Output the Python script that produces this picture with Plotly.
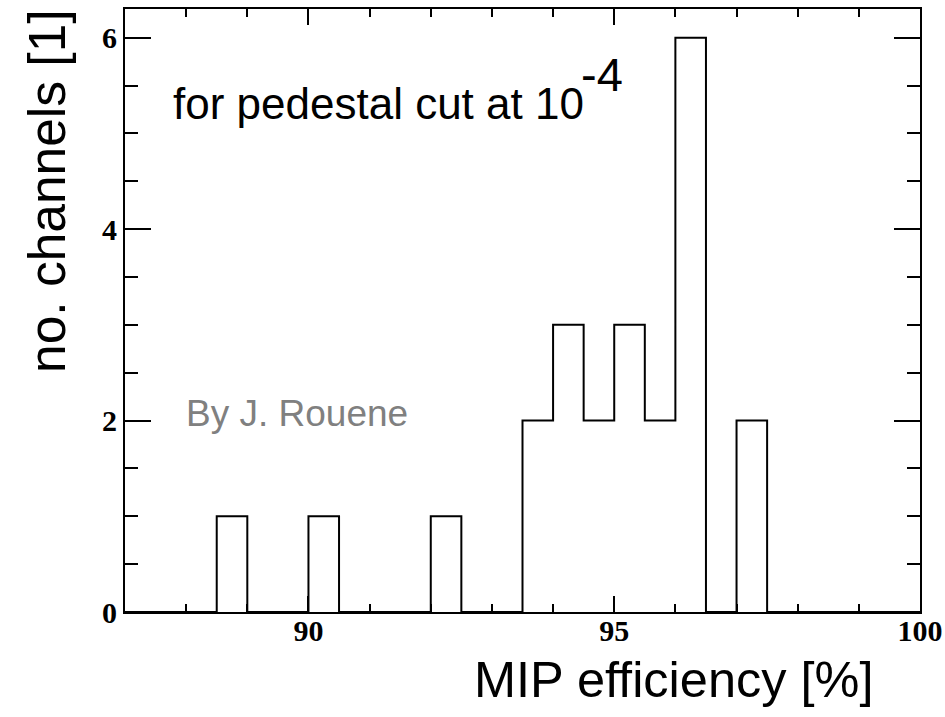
import plotly.graph_objects as go

# ---- data ----
bin_edges = [87.0 + 0.5 * i for i in range(27)]  # 87.0 ... 100.0
counts = [0, 0, 0, 1, 0, 0, 1, 0, 0, 0, 1, 0, 0, 2, 3, 2, 3, 2, 6, 0, 2, 0, 0, 0, 0, 0]
x_ticks = [90, 95, 100]
y_ticks = [0, 2, 4, 6]
x_range = [87, 100]
y_range = [0, 6.3]

# step outline
xs = bin_edges[:-1] + [bin_edges[-1]]
ys = counts + [counts[-1]]

W, H = 945, 717
L, R, T, B = 125, 25, 9, 105
pw, ph = W - L - R, H - T - B


def px(x):
    return (x - L) / pw


def py(y):
    return (H - B - y) / ph


fig = go.Figure()
fig.add_trace(go.Scatter(x=xs, y=ys, mode="lines", line=dict(shape="hv", color="black", width=2),
                         hoverinfo="skip", showlegend=False))

tickfont = dict(family="Liberation Serif", size=30, color="black", weight="bold")
common = dict(showline=True, linecolor="black", linewidth=2, mirror="allticks", ticks="inside",
              tickcolor="black", tickwidth=2, showgrid=False, zeroline=False, tickfont=tickfont,
              ticklabeloverflow="allow", automargin=False)

fig.update_xaxes(range=x_range, tickvals=x_ticks, ticklen=16, ticklabelstandoff=-9,
                 minor=dict(dtick=1, tick0=87, ticks="inside", ticklen=8, tickcolor="black", tickwidth=2, showgrid=False),
                 **common)
fig.update_yaxes(range=y_range, tickvals=y_ticks, ticklen=26,
                 minor=dict(dtick=0.5, tick0=0, ticks="inside", ticklen=13, tickcolor="black", tickwidth=2, showgrid=False),
                 **common)

sans = "Liberation Sans"
fig.add_annotation(text="MIP efficiency [%]", xref="paper", yref="paper", x=px(876), y=py(679),
                   xanchor="right", yanchor="middle", showarrow=False,
                   font=dict(family=sans, size=50.5, color="black"))
fig.add_annotation(text="no. channels [1]", xref="paper", yref="paper", x=px(47), y=py(7),
                   xanchor="center", yanchor="top", textangle=-90, showarrow=False,
                   font=dict(family=sans, size=51.5, color="black"))
fig.add_annotation(text="for pedestal cut at 10", xref="paper", yref="paper", x=px(171), y=py(104),
                   xanchor="left", yanchor="middle", showarrow=False,
                   font=dict(family=sans, size=44, color="black"))
fig.add_annotation(text="-4", xref="paper", yref="paper", x=px(579), y=py(75),
                   xanchor="left", yanchor="middle", showarrow=False,
                   font=dict(family=sans, size=47, color="black"))
fig.add_annotation(text="By J. Rouene", xref="paper", yref="paper", x=px(184), y=py(414),
                   xanchor="left", yanchor="middle", showarrow=False,
                   font=dict(family=sans, size=37, color="#808080"))

fig.update_layout(width=W, height=H, margin=dict(l=L, r=R, t=T, b=B),
                  paper_bgcolor="white", plot_bgcolor="white")

fig.write_html("out.html")
